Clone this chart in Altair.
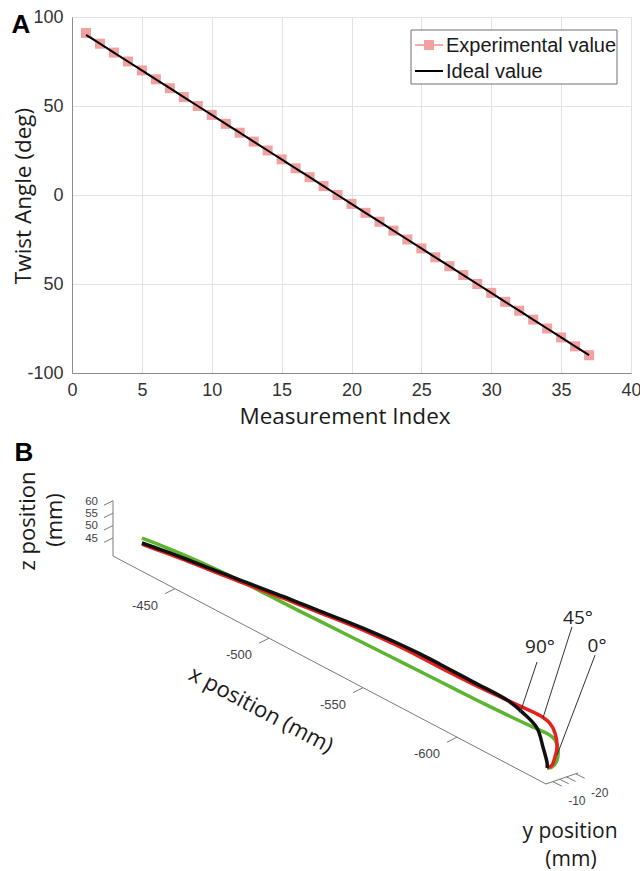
import altair as alt
import pandas as pd

# ---------------- Panel A data ----------------
measurement_index = [1, 2, 3, 4, 5, 6, 7, 8, 9, 10, 11, 12, 13, 14, 15, 16, 17, 18, 19,
                     20, 21, 22, 23, 24, 25, 26, 27, 28, 29, 30, 31, 32, 33, 34, 35, 36, 37]
ideal_value = [90, 85, 80, 75, 70, 65, 60, 55, 50, 45, 40, 35, 30, 25, 20, 15, 10, 5, 0,
               -5, -10, -15, -20, -25, -30, -35, -40, -45, -50, -55, -60, -65, -70, -75, -80, -85, -90]
experimental_value = [91, 85, 80, 75, 70, 65, 60, 55, 50, 45, 40, 35, 30, 25, 20, 15, 10, 5, 0,
                      -5, -10, -15, -20, -25, -30, -35, -40, -45, -50, -55, -60, -65, -70, -75, -80, -85, -90]
x_ticks_a = [0, 5, 10, 15, 20, 25, 30, 35, 40]
y_ticks_a = [-100, -50, 0, 50, 100]

# ---------------- Panel B data (mm) ----------------
curve_0deg_x = [-432.4, -444.7, -458.0, -471.3, -484.6, -500.5, -516.5, -535.1, -553.7, -572.3,
                -590.9, -608.5, -626.6, -640.4, -647.9, -652.1, -653.7, -653.2, -650.5, -647.9]
curve_0deg_z = [51.1, 52.3, 53.4, 54.2, 54.7, 54.9, 55.1, 55.5, 55.9, 56.2,
                56.5, 56.8, 57.3, 57.9, 58.3, 57.4, 54.0, 49.7, 45.8, 44.4]
curve_45deg_x = [-432.4, -444.7, -458.0, -471.3, -484.6, -497.9, -511.1, -527.1, -540.4, -553.7,
                 -567.0, -580.3, -590.9, -608.5, -626.6, -633.5, -644.1, -649.4, -652.1, -653.2,
                 -652.1, -650.5, -647.9]
curve_45deg_z = [48.6, 50.1, 51.6, 52.9, 54.3, 55.7, 57.2, 58.7, 60.1, 61.2,
                 61.9, 62.2, 62.2, 62.5, 63.3, 63.6, 64.0, 63.0, 60.2, 55.0,
                 50.5, 46.6, 44.4]
curve_90deg_x = [-432.4, -444.7, -458.0, -471.3, -484.6, -497.9, -511.1, -527.1, -540.4, -553.7,
                 -567.0, -580.3, -590.9, -608.5, -626.6, -635.1, -642.5, -645.7, -647.9, -647.9]
curve_90deg_z = [49.1, 50.7, 52.2, 53.6, 55.0, 56.4, 57.9, 59.4, 60.8, 62.0,
                 62.9, 63.4, 63.5, 63.4, 63.3, 61.5, 58.4, 52.0, 46.4, 44.4]
x_ticks_b = [-450, -500, -550, -600]
z_ticks_b = [45, 50, 55, 60]
y_ticks_b = [-10, -13, -16, -20]
y_tick_labels_b = {-10: "-10", -20: "-20"}
curve_labels = ["0°", "45°", "90°"]

# ---------------- projection of the 3-D box (layout) ----------------
X_START, X_END = -417.0, -647.3
Z_BASE, Z_TOP = 37.7, 60.0
Y_NEAR, Y_FAR = -7.0, -21.0
U0, V0 = 113.0, 556.0
XU, XV, ZV, YU, YV = 1.88, 0.99, 2.48, 2.29, -0.786


def proj(x, y, z):
    u = U0 + (X_START - x) * XU + (Y_NEAR - y) * YU
    v = V0 + (X_START - x) * XV + (Y_NEAR - y) * YV - (z - Z_BASE) * ZV
    return u, v


PXS = alt.Scale(domain=[0, 640], range=[-72, 568], zero=False, nice=False)
PYS = alt.Scale(domain=[0, 871], range=[-17, 854], zero=False, nice=False)


def pxy(extra=None):
    enc = dict(x=alt.X("px:Q", scale=PXS, axis=None), y=alt.Y("py:Q", scale=PYS, axis=None))
    if extra:
        enc.update(extra)
    return enc


def rules_df(segs):
    return pd.DataFrame([dict(px=a[0], py=a[1], px2=b[0], py2=b[1]) for a, b in segs])


def rule_layer(df, color, width):
    return alt.Chart(df).mark_rule(color=color, strokeWidth=width).encode(
        **pxy(dict(x2="px2:Q", y2="py2:Q")))


def text_layer(df, **kw):
    return alt.Chart(df).mark_text(**kw).encode(**pxy(dict(text="label:N")))


# ---------------- Panel A ----------------
dfa = pd.DataFrame({"idx": measurement_index, "ideal": ideal_value, "exp": experimental_value})
xa = alt.X("idx:Q", scale=alt.Scale(domain=[0, 40], nice=False, zero=False),
           axis=alt.Axis(values=x_ticks_a, title=None, grid=True, ticks=False, labelFlush=False,
                         labelOverlap=False, labelFont="Liberation Sans", labelFontSize=18,
                         labelColor="#333333", labelPadding=8, domainColor="#8c8c8c",
                         gridColor="#e2e2e2", labelExpr="'' + datum.value"))
ya_axis = alt.Axis(values=y_ticks_a, title=None, grid=True, ticks=False, labelFlush=False,
                   labelOverlap=False, labelFont="Liberation Sans", labelFontSize=18,
                   labelColor="#333333", labelPadding=9, domainColor="#8c8c8c",
                   gridColor="#e2e2e2",
                   labelExpr="datum.value == -50 ? '50' : '' + datum.value")
ya_scale = alt.Scale(domain=[-100, 100], nice=False, zero=False)

exp_line = alt.Chart(dfa).mark_line(color="#f08c8c", strokeWidth=1.5).encode(
    x=xa, y=alt.Y("exp:Q", scale=ya_scale, axis=ya_axis))
exp_pts = alt.Chart(dfa).mark_point(shape="square", filled=True, size=100, color="#f2a0a0",
                                    opacity=1).encode(
    x="idx:Q", y=alt.Y("exp:Q", scale=ya_scale))
ideal_line = alt.Chart(dfa).mark_line(color="#000000", strokeWidth=2).encode(
    x="idx:Q", y=alt.Y("ideal:Q", scale=ya_scale))
panel_a = alt.layer(exp_line, exp_pts, ideal_line)

# ---------------- Panel B ----------------
layers_b = []

o = proj(X_START, Y_NEAR, Z_BASE)
axes_segs = [(o, proj(X_END, Y_NEAR, Z_BASE)),
             (o, proj(X_START, Y_NEAR, Z_TOP)),
             (proj(X_END, Y_NEAR, Z_BASE), proj(X_END, Y_FAR, Z_BASE))]
tick_segs = []
tick_texts = []
for t in x_ticks_b:
    p = proj(t, Y_NEAR, Z_BASE)
    tick_segs.append((p, (p[0] - 10, p[1] + 5)))
    tick_texts.append(dict(px=p[0] - 30, py=p[1] + 17, label=str(t)))
ytexts = []
for t in y_ticks_b:
    p = proj(X_END, t, Z_BASE)
    tick_segs.append((p, (p[0] + 9, p[1] + 4.5)))
    if t in y_tick_labels_b:
        ytexts.append(dict(px=p[0] + 24, py=p[1] + 19, label=y_tick_labels_b[t]))
ztexts = []
for t in z_ticks_b:
    p = proj(X_START, Y_NEAR, t)
    tick_segs.append((p, (p[0] - 9, p[1] + 4.5)))
    ztexts.append(dict(px=p[0] - 15, py=p[1] + 1, label=str(t)))

layers_b.append(rule_layer(rules_df(axes_segs + tick_segs), "#7a7a7a", 1))
layers_b.append(text_layer(pd.DataFrame(tick_texts), font="Liberation Sans", fontSize=13,
                           color="#444444", align="center", baseline="middle"))
layers_b.append(text_layer(pd.DataFrame(ytexts), font="Liberation Sans", fontSize=12,
                           color="#444444", align="center", baseline="middle"))
layers_b.append(text_layer(pd.DataFrame(ztexts), font="Liberation Sans", fontSize=11.5,
                           color="#444444", align="right", baseline="middle"))

curves = [(curve_0deg_x, curve_0deg_z, "#5cb531"),
          (curve_45deg_x, curve_45deg_z, "#e8201c"),
          (curve_90deg_x, curve_90deg_z, "#111111")]
for xs, zs, col in curves:
    rows = []
    for i, (xv, zv) in enumerate(zip(xs, zs)):
        u, v = proj(xv, Y_NEAR, zv)
        rows.append(dict(px=u, py=v, seq=i))
    layers_b.append(alt.Chart(pd.DataFrame(rows)).mark_line(
        color=col, strokeWidth=3.5, interpolate="catmull-rom").encode(
        **pxy(dict(order="seq:Q"))))

leader_anchor = {"90°": (-633.5, 60.8), "45°": (-645.7, 63.7), "0°": (-653.2, 51.7)}
leader_offset = {"90°": (17, -51), "45°": (29, -91), "0°": (38, -100)}
label_offset = {"90°": (20, -66), "45°": (35, -100), "0°": (40, -109)}
lead_segs, lead_txt = [], []
for lab in curve_labels:
    a = proj(leader_anchor[lab][0], Y_NEAR, leader_anchor[lab][1])
    b = (a[0] + leader_offset[lab][0], a[1] + leader_offset[lab][1])
    lead_segs.append((a, b))
    lead_txt.append(dict(px=a[0] + label_offset[lab][0], py=a[1] + label_offset[lab][1], label=lab))
layers_b.append(rule_layer(rules_df(lead_segs), "#333333", 1))
layers_b.append(text_layer(pd.DataFrame(lead_txt), font="Open Sans", fontSize=19,
                           color="#222222", align="center", baseline="middle"))

layers_b.append(text_layer(pd.DataFrame([dict(px=261, py=710, label="x position (mm)")]),
                           font="Open Sans", fontSize=22, color="#1a1a1a", align="center",
                           baseline="middle", angle=28))
layers_b.append(text_layer(pd.DataFrame([dict(px=28, py=521, label="z position"),
                                         dict(px=55, py=520, label="(mm)")]),
                           font="Open Sans", fontSize=22, color="#1a1a1a", align="center",
                           baseline="middle", angle=270))
layers_b.append(text_layer(pd.DataFrame([dict(px=570, py=832, label="y position"),
                                         dict(px=571, py=860, label="(mm)")]),
                           font="Open Sans", fontSize=21, color="#1a1a1a", align="center",
                           baseline="middle"))

layers_b.append(text_layer(pd.DataFrame([dict(px=345, py=417, label="Measurement Index")]),
                           font="Open Sans", fontSize=22.5, color="#1a1a1a", align="center",
                           baseline="middle"))
layers_b.append(text_layer(pd.DataFrame([dict(px=24, py=196, label="Twist Angle (deg)")]),
                           font="Open Sans", fontSize=22.5, color="#1a1a1a", align="center",
                           baseline="middle", angle=270))
layers_b.append(text_layer(pd.DataFrame([dict(px=21, py=25, label="A"),
                                         dict(px=24, py=453, label="B")]),
                           font="Liberation Sans", fontSize=26, fontWeight="bold",
                           color="#000000", align="center", baseline="middle"))

legend_box = pd.DataFrame([dict(px=411, py=30, px2=617, py2=84)])
layers_b.append(alt.Chart(legend_box).mark_rect(fill="white", stroke="#707070",
                                                strokeWidth=1).encode(
    **pxy(dict(x2="px2:Q", y2="py2:Q"))))
layers_b.append(rule_layer(rules_df([((415, 45), (443, 45))]), "#f08c8c", 1.5))
layers_b.append(rule_layer(rules_df([((415, 71), (443, 71))]), "#000000", 2))
layers_b.append(alt.Chart(pd.DataFrame([dict(px=429, py=45)])).mark_point(
    shape="square", filled=True, size=100, color="#f2a0a0", opacity=1).encode(**pxy()))
layers_b.append(text_layer(pd.DataFrame([dict(px=446, py=46, label="Experimental value"),
                                         dict(px=446, py=72, label="Ideal value")]),
                           font="Liberation Sans", fontSize=20, color="#1a1a1a",
                           align="left", baseline="middle"))

panel_b = alt.layer(*layers_b)

chart = alt.layer(panel_a, panel_b).resolve_scale(x="independent", y="independent").properties(
    width=559, height=356,
    autosize=alt.AutoSizeParams(type="none"),
    padding={"left": 72, "top": 17, "right": 9, "bottom": 498},
).configure_view(stroke="#8c8c8c", strokeWidth=1).configure(background="white")

chart.save("out.html", embed_options={"renderer": "svg", "actions": False})
